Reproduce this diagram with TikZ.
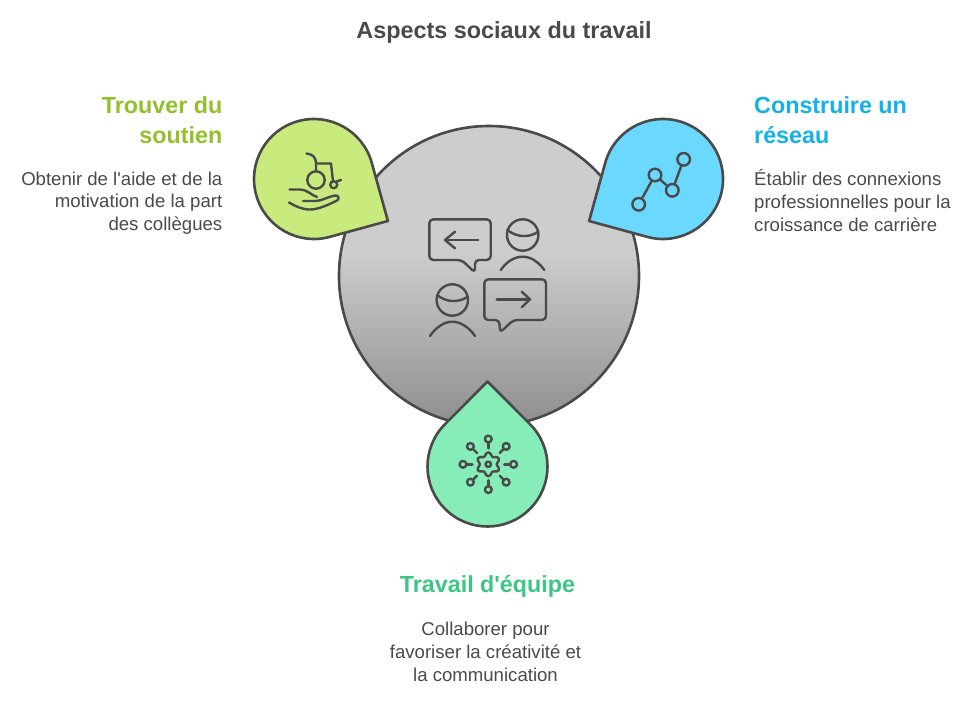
\documentclass[tikz,border=0pt]{standalone}
\usepackage{fontspec}
\setmainfont[Ligatures=TeXOff]{Liberation Sans}
\usepackage{tikz}
\usetikzlibrary{calc}

\definecolor{linegray}{HTML}{4A4A4A}
\definecolor{bigdisk}{HTML}{CDCDCD}
\definecolor{bigdiskdark}{HTML}{8E8E8E}
\definecolor{soutienfill}{HTML}{C9EA7D}
\definecolor{reseaufill}{HTML}{6BD8FF}
\definecolor{equipefill}{HTML}{86EDB9}
\definecolor{soutienhead}{HTML}{93C02B}
\definecolor{reseauhead}{HTML}{14B1E7}
\definecolor{equipehead}{HTML}{3CC583}
\pgfdeclareverticalshading{diskshade}{100bp}{color(0bp)=(bigdiskdark); color(25bp)=(bigdiskdark); color(54bp)=(bigdisk); color(100bp)=(bigdisk)}

\begin{document}
\begin{tikzpicture}[
      x=1pt, y=-1pt,
      outline/.style={draw=linegray, line width=2.6pt, line join=round},
      icon/.style={draw=linegray, line width=2.4pt, line cap=round, line join=round},
      netdot/.style={circle, draw=linegray, line width=2.4pt, inner sep=0pt, minimum size=12.6pt},
      titletext/.style={font=\fontsize{23.4}{28}\selectfont\bfseries, text=linegray},
      headtext/.style={font=\fontsize{23.3}{30}\selectfont\bfseries, inner sep=0pt},
      bodytext/.style={font=\fontsize{18.6}{22.8}\selectfont, text=linegray, inner sep=0pt}
    ]
    \useasboundingbox (0,0) rectangle (977,705);

    % Big disk in the middle
    \shade[shading=diskshade] (489,276) circle[radius=150];
    \draw[outline] (489,276) circle[radius=150];

    % Three drops: center x / center y / direction of the tip / colour
    \foreach \cx/\cy/\tipdir/\dropfill in {314/179/29.6/soutienfill, 663/179/150.4/reseaufill, 487.5/466.5/-90/equipefill} {
      \draw[outline, fill=\dropfill] (\cx,\cy) ++(\tipdir+45:60)
        arc[start angle=\tipdir+45, delta angle=270, radius=60]
        -- ($(\cx,\cy)+(\tipdir:85)$) -- cycle;
    }

    % Talking people in the disk
    \draw[icon, rounded corners=4pt] (461.7,260) -- (475,272.7) -- (475,260) -- (490.7,260)
      -- (490.7,219.3) -- (429.3,219.3) -- (429.3,260) -- cycle;
    \draw[icon] (478.3,240) -- (445,240);
    \draw[icon] (455,231.7) -- (445,240) -- (455,248.3);
    \draw[icon] (522.7,235) circle[radius=15.7];
    \draw[icon] (507.3,230) .. controls (517,237.5) and (529,238) .. (538.3,231.7);
    \draw[icon] (500.7,270) .. controls (507,261) and (515,256.7) .. (522.7,256.7)
      .. controls (530,256.7) and (538,261) .. (544.3,270);

    \draw[icon, rounded corners=4pt] (499.3,320) -- (500,332.7) -- (513.3,320) -- (546,320)
      -- (546,279.3) -- (484.3,279.3) -- (484.3,320) -- cycle;
    \draw[icon] (496.7,299.3) -- (530,299.3);
    \draw[icon] (521.7,291.7) -- (530,299.3) -- (521.7,307.3);
    \draw[icon] (452.3,300) circle[radius=15.7];
    \draw[icon] (437,295) .. controls (446.5,302.5) and (458.5,303) .. (467.7,296.7);
    \draw[icon] (430,336) .. controls (436,327) and (444.5,321.7) .. (452.3,321.7)
      .. controls (460,321.7) and (469,327) .. (475,336);

    % Wheelchair and hand
    \draw[icon] (316,180) circle[radius=8.7];
    \draw[icon] (333.7,184.7) circle[radius=3.5];
    \draw[icon] (306.5,153.5) .. controls (312,154) and (316,157) .. (316,163) -- (316,171.5);
    \draw[icon] (316,163.5) -- (331,163.5) -- (333,181);
    \draw[icon] (336.5,181.5) -- (341,180);
    \draw[icon] (289.5,189.5) -- (300,189.5) .. controls (307,189.5) and (311,195) .. (317,197);
    \draw[icon] (303,201) -- (315,201) .. controls (322,201) and (327,197) .. (335,195.5)
      .. controls (339,195) and (339.5,199) .. (337,200.5)
      .. controls (328,205) and (318,209.5) .. (310,209.5)
      .. controls (302,209.5) and (295,206) .. (289,202.5);

    % Small network
    \node[netdot] (dota) at (638.7,204.3) {};
    \node[netdot] (dotb) at (655,175) {};
    \node[netdot] (dotc) at (672.3,190.3) {};
    \node[netdot] (dotd) at (683.7,159.3) {};
    \draw[icon] (dota) -- (dotb);
    \draw[icon] (dotb) -- (dotc);
    \draw[icon] (dotc) -- (dotd);

    % Gear with its spokes
    \begin{scope}[shift={(488.3,464.3)}]
      \draw[icon] plot[smooth cycle, samples=36, domain=0:350] (\x:{10.2-1.8*cos(6*\x)});
      \foreach \spoke in {0,45,...,315} {
        \draw[icon] (\spoke:16) -- (\spoke:21.5);
        \draw[icon] (\spoke:25.3) circle[radius=3.4];
      }
      \draw[icon] (0,0) circle[radius=2.7];
    \end{scope}

    % Texts
    \node[titletext] (title) at (504,32.5) {Aspects sociaux du travail};

    \node[headtext, text=soutienhead, anchor=north east, align=right] (soutienhead) at (222.5,96)
      {Trouver du\\soutien};
    \node[bodytext, anchor=north east, align=right] (soutienbody) at (222.5,171.5)
      {Obtenir de l'aide et de la\\motivation de la part\\des collègues};

    \node[headtext, text=reseauhead, anchor=north west, align=left] (reseauhead) at (754,96)
      {Construire un\\réseau};
    \node[bodytext, anchor=north west, align=left] (reseaubody) at (754,169.5)
      {Établir des connexions\\professionnelles pour la\\croissance de carrière};

    \node[headtext, text=equipehead] (equipehead) at (487.5,586.5) {Travail d'équipe};
    \node[bodytext, anchor=north, align=center] (equipebody) at (485.5,622)
      {Collaborer pour\\favoriser la créativité et\\la communication};
  \end{tikzpicture}
\end{document}
